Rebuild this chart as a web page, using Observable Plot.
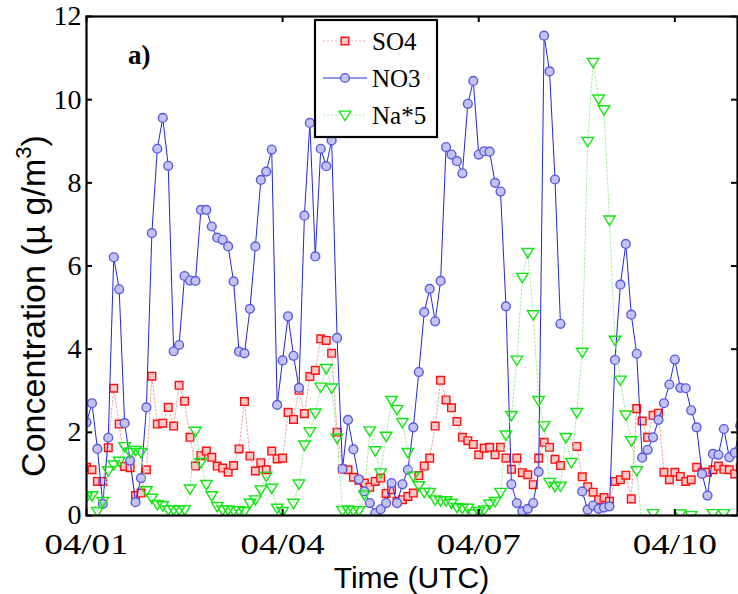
<!DOCTYPE html>
<html><head><meta charset="utf-8">
<script src="https://cdn.jsdelivr.net/npm/d3@7"></script>
<script src="https://cdn.jsdelivr.net/npm/@observablehq/plot@0.6"></script>
<style>body{margin:0;background:#fff;} #chart{width:738px;height:594px;}</style>
</head><body><div id="chart"></div>
<script>
// ---- data (2-hourly samples starting 04/01 00:00 UTC) ----
const startYear = 2011;
const stepHours = 2;
const seriesNames = ["SO4", "NO3", "Na*5"];
const so4 = [1.16,1.10,0.82,0.82,1.63,3.06,2.20,1.18,1.15,0.48,0.54,1.10,3.35,2.20,2.22,2.60,2.15,3.13,2.75,1.88,
  1.19,1.44,1.55,1.40,1.19,1.14,1.04,1.20,1.60,2.74,1.43,1.07,1.27,1.10,1.55,1.36,1.38,2.48,2.31,3.01,
  2.45,3.34,3.49,4.25,4.21,3.90,2.00,1.12,1.10,0.92,0.85,0.78,0.68,0.82,0.90,0.53,0.62,0.34,0.38,0.46,
  0.54,0.96,1.19,1.38,2.15,3.25,2.78,2.59,2.26,1.88,1.80,1.71,1.46,1.62,1.64,1.46,1.64,1.38,1.11,1.38,
  1.03,0.98,0.74,1.38,1.76,1.64,1.35,1.20,null,null,1.66,0.93,0.69,0.56,0.38,0.43,0.34,0.82,0.86,0.97,
  0.40,2.57,2.27,1.88,2.41,2.46,1.04,0.86,1.04,0.94,0.82,0.86,1.16,1.04,1.04,1.10,1.19,1.11,1.10,1.00,1.16];
const no3 = [2.24,2.70,1.60,0.28,1.87,6.21,5.44,2.22,1.32,0.32,0.90,2.60,6.79,8.82,9.56,8.41,3.95,4.10,5.76,5.65,
  5.64,7.35,7.35,6.95,6.68,6.63,6.47,5.63,3.94,3.90,4.97,6.47,8.07,8.27,8.80,2.66,3.73,4.79,3.84,3.07,
  7.21,9.44,6.23,8.82,8.40,9.02,4.27,1.12,2.30,1.59,0.87,0.58,0.30,0.06,0.15,0.30,0.78,0.30,0.75,1.10,
  2.12,3.45,4.89,5.45,4.67,5.64,8.86,8.68,8.52,8.23,9.90,10.45,8.68,8.76,8.75,8.00,7.79,5.03,0.75,0.30,
  0.10,0.16,0.30,1.05,11.54,10.68,8.08,4.61,null,null,null,0.58,0.14,0.24,0.16,0.19,0.22,3.74,5.55,6.53,
  4.83,3.89,1.39,1.58,1.88,2.30,2.70,3.15,3.75,3.07,3.06,2.53,2.12,1.00,0.48,1.48,1.46,2.08,1.40,1.51,2.16];
const na5 = [0.45,0.48,0.10,0.34,1.08,1.22,1.31,1.66,1.52,1.57,1.52,0.60,0.42,0.27,0.24,0.14,0.14,0.14,0.14,0.64,
  2.03,1.28,0.75,0.48,0.22,0.14,0.14,0.12,0.12,0.10,0.30,0.38,0.62,0.95,0.66,0.18,0.10,null,0.30,0.76,
  1.70,2.02,2.47,3.09,3.54,3.07,1.86,0.12,0.14,0.12,0.12,0.50,2.04,1.56,1.03,1.91,2.77,2.55,2.24,1.52,
  0.95,0.72,0.56,0.56,0.38,0.36,0.36,0.30,0.20,0.18,0.18,0.04,0.10,0.14,0.28,0.34,0.56,1.94,2.41,3.74,
  5.73,6.33,4.83,2.77,2.16,0.80,0.70,0.71,1.88,1.28,2.48,3.93,9.00,10.90,10.02,9.76,7.11,4.22,3.26,2.42,
  1.80,1.08,-0.30,null,0.05,null,null,null,null,0.04,null,0.00,null,null,null,0.05,null,0.05,null,null,null];
const xTickLabels = ["04/01", "04/04", "04/07", "04/10"];
const yTicks = [0, 2, 4, 6, 8, 10, 12];

// ---- build tables ----
const t0 = Date.UTC(startYear, 3, 1);
const timeAt = i => new Date(t0 + i * stepHours * 3600e3);
const toRows = vals => vals.map((v, i) => ({t: timeAt(i), v: v == null ? NaN : v}));
const so4Rows = toRows(so4), no3Rows = toRows(no3), naRows = toRows(na5);
const xTickDates = xTickLabels.map(s => { const [m, d] = s.split("/").map(Number); return new Date(Date.UTC(startYear, m - 1, d)); });
const fmt = d3.utcFormat("%m/%d");

const W = 738, H = 594, mL = 86, mR = 1, mT = 16, mB = 79;
const plotW = W - mL - mR, plotH = H - mT - mB;
const serif = "Liberation Serif, Times New Roman, Times, serif";
const sans = "Liberation Sans, Arial, sans-serif";

const triDown = {draw(ctx, size) {
  const r = Math.sqrt(size / Math.PI);
  ctx.moveTo(-1.2 * r, -0.8 * r); ctx.lineTo(1.2 * r, -0.8 * r); ctx.lineTo(0, 1.15 * r); ctx.closePath();
}};

const styles = {
  "SO4": {line: "#eaa9a9", dash: "2,2", lw: 1, symbol: "square", r: 4.3, fill: "#ffc6c6", stroke: "#ff1010"},
  "NO3": {line: "#2424dd", dash: null, lw: 1, symbol: "circle", r: 4.4, fill: "#c3c3f3", stroke: "#5a5ae0"},
  "Na*5": {line: "#a8eaa8", dash: "2,2", lw: 1, symbol: triDown, r: 4.8, fill: "none", stroke: "#12e612"}
};

function seriesMarks(rows, s) {
  return [
    Plot.line(rows, {x: "t", y: "v", stroke: s.line, strokeWidth: s.lw, strokeDasharray: s.dash, clip: true}),
    Plot.dot(rows, {x: "t", y: "v", symbol: s.symbol, r: s.r, fill: s.fill, stroke: s.stroke, strokeWidth: 1.4, clip: true})
  ];
}

const chart = Plot.plot({
  width: W, height: H, marginLeft: mL, marginRight: mR, marginTop: mT, marginBottom: mB,
  style: {fontFamily: serif, background: "#fff", color: "#000"},
  x: {type: "utc", domain: [new Date(t0), timeAt(119.5)], label: null},
  y: {domain: [0, 12], label: null},
  marks: [
    ...seriesMarks(so4Rows, styles["SO4"]),
    ...seriesMarks(no3Rows, styles["NO3"]),
    ...seriesMarks(naRows, styles["Na*5"]),
    Plot.tickX(xTickDates, {x: d => d, insetTop: plotH - 6, stroke: "#000", strokeWidth: 2}),
    Plot.tickX(xTickDates, {x: d => d, insetBottom: plotH - 6, stroke: "#000", strokeWidth: 2}),
    Plot.tickY(yTicks, {y: d => d, insetRight: plotW - 6, stroke: "#000", strokeWidth: 2}),
    Plot.tickY(yTicks, {y: d => d, insetLeft: plotW - 6, stroke: "#000", strokeWidth: 2}),
    Plot.frame({stroke: "#000", strokeWidth: 2.2}),
    Plot.axisX(xTickDates, {tickFormat: fmt, tickSize: 0, tickPadding: 18, fontSize: 29, fontFamily: serif, label: null}),
    Plot.axisY(yTicks, {tickSize: 0, tickPadding: 5, fontSize: 28, fontFamily: serif, label: null})
  ]
});
document.getElementById("chart").appendChild(chart);

const svg = d3.select(chart);
svg.selectAll('g[aria-label="x-axis tick label"] text')
  .attr("textLength", 84).attr("lengthAdjust", "spacingAndGlyphs");

// ---- annotations: axis titles, panel label, legend ----
svg.append("text").attr("x", mL + plotW / 2).attr("y", 588).attr("text-anchor", "middle")
  .attr("font-family", sans).attr("font-size", 30).attr("fill", "#000")
  .text("Time (UTC)");
const yl = svg.append("text").attr("transform", "translate(45,306) rotate(-90)").attr("text-anchor", "middle")
  .attr("font-family", sans).attr("font-size", 34).attr("fill", "#000");
yl.append("tspan").text("Concentration (\u00B5 g/m");
yl.append("tspan").attr("font-size", 22).attr("dy", -14).text("3");
yl.append("tspan").attr("dy", 14).text(")");
svg.append("text").attr("x", 128).attr("y", 64).attr("text-anchor", "start").attr("font-family", serif)
  .attr("font-weight", "bold").attr("font-size", 27).attr("fill", "#000").text("a)");

const lg = svg.append("g").attr("transform", "translate(315,20)");
lg.append("rect").attr("width", 122).attr("height", 117).attr("fill", "#fff").attr("stroke", "#000").attr("stroke-width", 2.2);
seriesNames.forEach((name, k) => {
  const s = styles[name], cy = 21 + k * 37;
  lg.append("line").attr("x1", 8).attr("x2", 52).attr("y1", cy).attr("y2", cy)
    .attr("stroke", s.line).attr("stroke-width", s.lw).attr("stroke-dasharray", s.dash);
  const sym = typeof s.symbol === "string" ? (s.symbol === "square" ? d3.symbolSquare : d3.symbolCircle) : s.symbol;
  lg.append("path").attr("transform", `translate(30,${cy})`).attr("d", d3.symbol(sym, Math.PI * s.r * s.r)())
    .attr("fill", s.fill).attr("stroke", s.stroke).attr("stroke-width", 1.4);
  lg.append("text").attr("x", 57).attr("y", cy).attr("dy", "0.35em").attr("text-anchor", "start")
    .attr("font-family", serif).attr("font-size", 25).attr("fill", "#000").text(name);
});
</script></body></html>
